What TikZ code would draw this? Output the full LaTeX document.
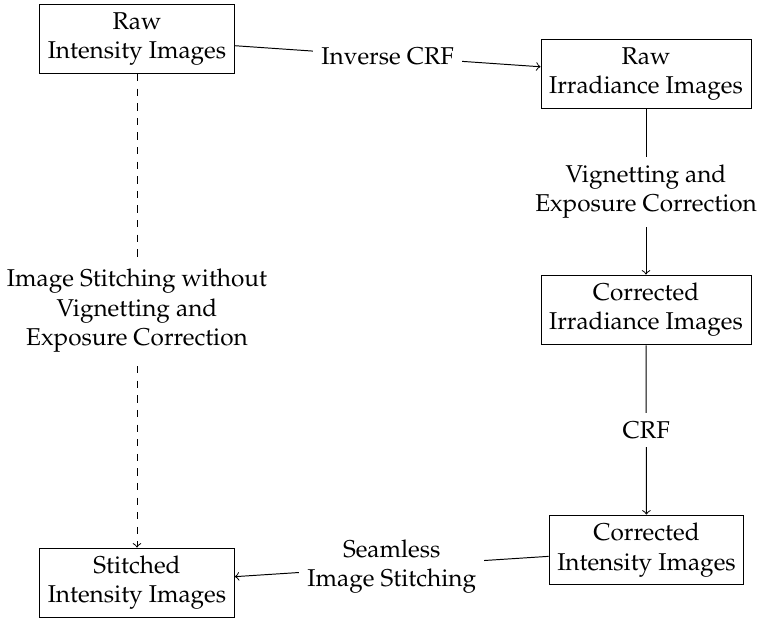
\documentclass[tikz,border=0pt]{standalone}
\usepackage[T1]{fontenc}
\usepackage{mathpazo}
\usepackage{tikz}

\begin{document}
\begin{tikzpicture}
  [box/.style={draw, align=center},
   lbl/.style={fill=white, align=center}]
  \useasboundingbox (0,0) rectangle (10.945,8.938);
  \node[box] (rawint) at (1.978, 8.375) {Raw\\Intensity Images};
  \node[box] (rawirr) at (9.328, 7.869) {Raw\\Irradiance Images};
  \node[box] (corirr) at (9.328, 4.462) {Corrected\\Irradiance Images};
  \node[box] (corint) at (9.335, 0.996) {Corrected\\Intensity Images};
  \node[box] (stitch) at (1.978, 0.520) {Stitched\\Intensity Images};

  \foreach \from/\to/\txt in {rawint/rawirr/{Inverse CRF},
      rawirr/corirr/{Vignetting and\\Exposure Correction},
      corirr/corint/{CRF},
      corint/stitch/{Seamless\\Image Stitching}}
  \draw[->] (\from) -- node[lbl] {\txt} (\to);

  \draw[->, dashed] (rawint) -- node[lbl] {Image Stitching without\\Vignetting and\\Exposure Correction} (stitch);

\end{tikzpicture}
\end{document}
